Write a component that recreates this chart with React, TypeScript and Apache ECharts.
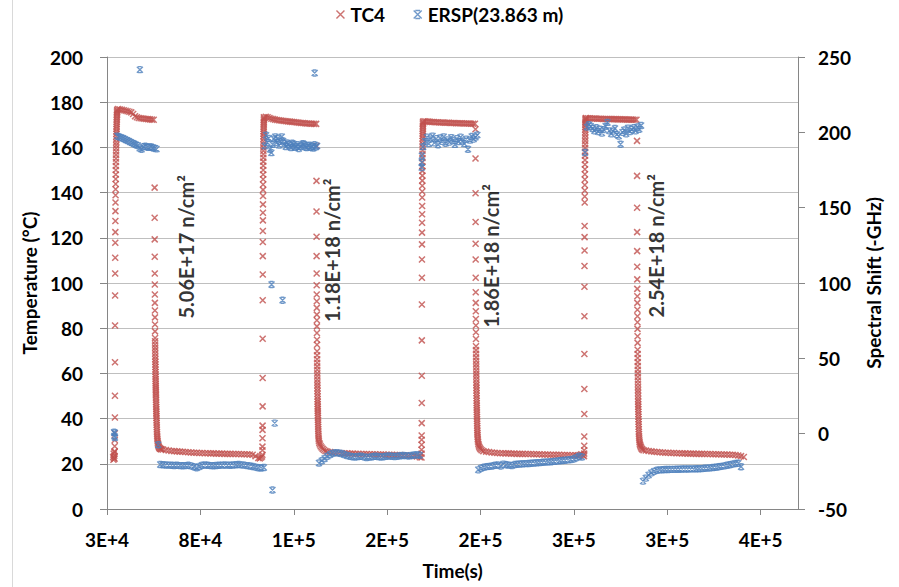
import React, { useEffect, useRef } from 'react';
import * as echarts from 'echarts';

// ---------- axis setup ----------
const T0 = 30000; // first x tick (s)
const xTickLabels = ['3E+4', '8E+4', '1E+5', '2E+5', '2E+5', '3E+5', '3E+5', '4E+5'];
const legendNames = ['TC4', 'ERSP(23.863 m)'];

// ---------- TC4 (°C) ----------
// transitions: [time(s), temp]
const tc4Pre1 = [[33300, 23.0], [33450, 21.8], [33600, 24.5], [33750, 22.5], [33900, 23.5], [34000, 25.2], [34050, 22.2]];
const tc4Rise1 = [[34100, 25.5], [34130, 27.8], [34160, 30.5], [34190, 33.5], [34220, 40.5], [34250, 50.1], [34280, 64.9], [34310, 81.2], [34340, 94.5], [34370, 104.2], [34400, 111.2], [34430, 117.8], [34460, 122.5], [34490, 127.4], [34520, 131.8], [34550, 135.6], [34580, 138.8], [34610, 141.5], [34640, 143.8], [34670, 146.0], [34700, 148.0], [34730, 150.0], [34760, 151.8], [34790, 153.5], [34820, 155.1], [34850, 156.7], [34880, 158.2], [34910, 159.6], [34940, 161.0], [34970, 162.3], [35000, 163.6], [35030, 164.8], [35060, 166.0], [35090, 167.1], [35120, 168.2], [35150, 169.2], [35180, 170.2], [35210, 171.1], [35240, 172.0], [35270, 172.8], [35300, 173.6], [35330, 174.3], [35360, 175.0], [35390, 175.6], [35420, 176.2], [35450, 176.7]];
// plateaus: start, sampling step, values
const tc4High1 = { start: 36000, step: 1000, values: [177.0, 176.8, 176.6, 176.4, 176.2, 176.0, 175.8, 175.5, 174.8, 173.8, 173.3, 173.0, 172.9, 172.8, 172.7, 172.6, 172.5, 172.4, 172.3, 172.2] };
const tc4Fall1 = [[55500, 142.2], [55520, 128.9], [55540, 119.3], [55560, 111.6], [55580, 104.2], [55600, 99.3], [55620, 94.9], [55640, 91.2], [55660, 87.8], [55680, 84.8], [55700, 81.6], [55720, 78.6], [55740, 75.7], [55760, 74.2], [55780, 72.8], [55800, 71.4], [55820, 70.1], [55840, 68.8], [55860, 67.5], [55880, 66.3], [55900, 65.1], [55920, 63.9], [55940, 62.8], [55960, 61.7], [55980, 60.6], [56000, 59.5], [56020, 58.5], [56040, 57.5], [56060, 56.5], [56080, 55.5], [56100, 54.6], [56120, 53.7], [56140, 52.8], [56160, 51.9], [56180, 51.0], [56200, 50.2], [56230, 49.2], [56260, 48.2], [56290, 47.2], [56320, 46.2], [56350, 45.2], [56380, 44.2], [56410, 43.2], [56440, 42.2], [56470, 41.2], [56500, 40.2], [56540, 39.2], [56580, 38.2], [56620, 37.2], [56660, 36.2], [56700, 35.2], [56750, 34.2], [56800, 33.3], [56860, 32.4], [56930, 31.6], [57000, 30.8], [57100, 30.0], [57220, 29.3], [57360, 28.7], [57520, 28.1], [57700, 27.6], [57900, 27.2], [58150, 26.9], [58450, 26.7], [58800, 26.5], [59200, 26.4]];
const tc4Low1 = { start: 60000, step: 1500, values: [26.3, 26.1, 25.9, 25.7, 25.6, 25.5, 25.4, 25.3, 25.2, 25.1, 25.0, 24.9, 24.9, 24.8, 24.8, 24.7, 24.7, 24.6, 24.6, 24.5, 24.5, 24.5, 24.4, 24.4, 24.4, 24.3, 24.3, 24.3, 24.2, 24.2, 24.2, 24.1, 24.0, 23.4, 22.6] };
const tc4Pre2 = [[111800, 22.4], [112500, 22.8], [113000, 23.2]];
const tc4Rise2 = [[113200, 24.0], [113220, 26.0], [113240, 27.6], [113260, 31.3], [113280, 35.0], [113300, 36.9], [113320, 45.4], [113340, 58.0], [113360, 75.3], [113380, 92.4], [113400, 103.8], [113420, 111.9], [113440, 118.1], [113460, 123.0], [113480, 127.7], [113500, 131.1], [113520, 134.8], [113540, 138.5], [113560, 141.2], [113580, 143.6], [113600, 145.9], [113620, 148.0], [113640, 150.0], [113660, 151.9], [113680, 153.7], [113700, 155.4], [113720, 157.0], [113740, 158.5], [113760, 159.9], [113780, 161.3], [113800, 162.6], [113820, 163.8], [113840, 165.0], [113860, 166.1], [113880, 167.1], [113900, 168.1], [113920, 169.0], [113940, 169.9], [113960, 170.7], [113980, 171.5], [114000, 172.2], [114020, 172.8], [114040, 173.3]];
const tc4High2 = { start: 115000, step: 1000, values: [173.5, 173.3, 173.0, 172.7, 172.5, 172.3, 172.1, 172.0, 171.9, 171.8, 171.7, 171.6, 171.5, 171.4, 171.3, 171.2, 171.1, 171.0, 170.9, 170.8, 170.8, 170.7, 170.6, 170.6, 170.5, 170.5, 170.4, 170.4] };
const tc4Fall2 = [[142150, 160.7], [142170, 145.2], [142190, 131.6], [142210, 120.5], [142230, 111.9], [142250, 104.2], [142270, 99.0], [142290, 94.9], [142310, 91.9], [142330, 89.0], [142350, 86.0], [142370, 83.5], [142390, 80.8], [142410, 77.9], [142430, 74.9], [142450, 72.7], [142470, 69.8], [142490, 68.0], [142510, 66.3], [142530, 64.7], [142550, 63.1], [142570, 61.6], [142590, 60.1], [142610, 58.7], [142630, 57.3], [142650, 56.0], [142670, 54.7], [142690, 53.4], [142710, 52.2], [142730, 51.0], [142750, 49.8], [142770, 48.6], [142790, 47.5], [142810, 46.4], [142830, 45.3], [142850, 44.3], [142870, 43.3], [142890, 42.4], [142920, 41.4], [142950, 40.4], [142980, 39.4], [143010, 38.4], [143040, 37.4], [143070, 36.4], [143100, 35.4], [143140, 34.4], [143180, 33.4], [143230, 32.5], [143290, 31.6], [143360, 30.8], [143450, 30.0], [143700, 29.2], [144000, 28.5], [144400, 27.8], [144900, 27.2], [145500, 26.6], [146200, 26.1], [147000, 25.7], [148000, 25.4]];
const tc4Low2 = { start: 149500, step: 1500, values: [25.2, 25.0, 24.9, 24.8, 24.7, 24.6, 24.6, 24.5, 24.5, 24.4, 24.4, 24.3, 24.3, 24.3, 24.2, 24.2, 24.2, 24.1, 24.1, 24.1, 24.0, 24.0, 24.0, 23.9, 23.9, 23.9, 23.8, 23.8, 23.7, 23.6, 23.5, 23.2, 22.9] };
const tc4Rise3 = [[198400, 22.8], [198420, 24.5], [198440, 26.2], [198460, 28.4], [198480, 30.6], [198500, 32.5], [198520, 38.0], [198540, 46.9], [198560, 59.0], [198580, 74.6], [198600, 90.5], [198620, 102.3], [198640, 110.4], [198660, 117.1], [198680, 122.3], [198700, 126.7], [198720, 130.4], [198740, 134.1], [198760, 137.8], [198780, 140.5], [198800, 143.0], [198820, 145.3], [198840, 147.5], [198860, 149.6], [198880, 151.6], [198900, 153.5], [198920, 155.3], [198940, 157.0], [198960, 158.6], [198980, 160.1], [199000, 161.5], [199020, 162.8], [199040, 164.0], [199060, 165.1], [199080, 166.1], [199100, 167.1], [199120, 168.0], [199140, 168.8], [199160, 169.6], [199180, 170.3], [199200, 170.9], [199220, 171.4]];
const tc4High3 = { start: 200000, step: 1000, values: [171.6, 171.5, 171.4, 171.3, 171.2, 171.2, 171.1, 171.1, 171.0, 171.0, 171.0, 170.9, 170.9, 170.9, 170.8, 170.8, 170.8, 170.7, 170.7, 170.7, 170.7, 170.6, 170.6, 170.6, 170.6, 170.5, 170.5, 170.5] };
const tc4Fall3 = [[227300, 168.0], [227320, 155.1], [227340, 139.7], [227360, 127.0], [227380, 117.4], [227400, 110.4], [227420, 102.3], [227440, 95.9], [227460, 91.2], [227480, 87.5], [227500, 84.1], [227520, 81.2], [227540, 78.2], [227560, 75.2], [227580, 72.0], [227600, 70.3], [227620, 68.7], [227640, 67.1], [227660, 65.6], [227680, 64.1], [227700, 62.7], [227720, 61.3], [227740, 59.9], [227760, 58.6], [227780, 57.3], [227800, 56.0], [227820, 54.8], [227840, 53.6], [227860, 52.4], [227880, 51.2], [227900, 50.1], [227920, 49.0], [227940, 47.9], [227960, 46.8], [227980, 45.8], [228000, 44.8], [228020, 43.8], [228040, 42.8], [228070, 41.8], [228100, 40.8], [228130, 39.8], [228160, 38.8], [228190, 37.8], [228220, 36.8], [228250, 35.8], [228290, 34.8], [228330, 33.8], [228380, 32.9], [228440, 32.0], [228510, 31.1], [228600, 30.3], [228720, 29.5], [228880, 28.8], [229080, 28.1], [229330, 27.5], [229650, 26.9], [230050, 26.4], [230600, 26.0]];
const tc4Low3 = { start: 231500, step: 1500, values: [25.6, 25.4, 25.2, 25.0, 24.9, 24.8, 24.7, 24.7, 24.6, 24.6, 24.5, 24.5, 24.4, 24.4, 24.4, 24.3, 24.3, 24.3, 24.2, 24.2, 24.2, 24.1, 24.1, 24.1, 24.0, 24.0, 24.0, 24.0, 23.9, 23.9, 23.9, 23.8, 23.8, 23.8] };
const tc4Pre4 = [[282000, 23.6], [283000, 23.9], [284000, 24.2], [284800, 23.8], [285400, 23.4]];
const tc4Rise4 = [[285500, 24.5], [285520, 26.0], [285540, 28.0], [285560, 32.1], [285580, 42.0], [285600, 53.1], [285620, 68.6], [285640, 85.3], [285660, 98.3], [285680, 107.5], [285700, 114.4], [285720, 120.3], [285740, 125.2], [285780, 135.6], [285800, 138.3], [285820, 140.9], [285840, 143.4], [285860, 145.8], [285880, 148.1], [285900, 150.3], [285920, 152.4], [285940, 154.4], [285960, 156.3], [285980, 158.1], [286000, 159.8], [286020, 161.4], [286040, 162.9], [286060, 164.3], [286080, 165.6], [286100, 166.8], [286120, 167.9], [286140, 168.9], [286160, 169.8], [286180, 170.6], [286200, 171.3], [286220, 171.9], [286240, 172.4], [286260, 172.8]];
const tc4High4 = { start: 286500, step: 1000, values: [173.0, 172.9, 172.9, 172.8, 172.8, 172.8, 172.7, 172.7, 172.7, 172.6, 172.6, 172.6, 172.6, 172.5, 172.5, 172.5, 172.5, 172.4, 172.4, 172.4, 172.4, 172.4, 172.3, 172.3, 172.3, 172.3, 172.2, 172.2] };
const tc4Fall4 = [[313800, 162.9], [313820, 147.4], [313840, 133.3], [313860, 122.5], [313880, 114.1], [313900, 107.2], [313920, 101.6], [313940, 97.4], [313960, 94.1], [313980, 91.2], [314000, 88.2], [314020, 85.3], [314040, 82.6], [314060, 79.7], [314080, 76.4], [314100, 73.5], [314120, 70.5], [314140, 68.6], [314160, 66.8], [314180, 65.0], [314200, 63.3], [314220, 61.6], [314240, 60.0], [314260, 58.4], [314280, 56.9], [314300, 55.4], [314320, 54.0], [314340, 52.6], [314360, 51.3], [314380, 50.0], [314400, 48.7], [314420, 47.5], [314440, 46.3], [314460, 45.2], [314490, 44.1], [314520, 43.0], [314550, 41.9], [314580, 40.8], [314610, 39.7], [314640, 38.6], [314670, 37.5], [314700, 36.4], [314740, 35.3], [314780, 34.2], [314830, 33.2], [314890, 32.2], [314960, 31.3], [315050, 30.4], [315160, 29.6], [315300, 28.9], [315480, 28.3], [315700, 27.7], [315970, 27.2], [316300, 26.7], [316700, 26.3], [317300, 26.0]];
const tc4Low4 = { start: 318500, step: 1500, values: [25.9, 25.7, 25.5, 25.3, 25.2, 25.1, 25.0, 24.9, 24.9, 24.8, 24.8, 24.7, 24.7, 24.6, 24.6, 24.5, 24.5, 24.5, 24.4, 24.4, 24.4, 24.3, 24.3, 24.3, 24.2, 24.2, 24.2, 24.1, 24.1, 24.1, 24.0, 24.0, 23.9, 23.7, 23.4, 23.0] };

// ---------- ERSP spectral shift (-GHz) ----------
const erspPre1 = [[33800, 1.0], [33950, -1.5], [34100, 0.5], [34250, -2.5]];
const erspHigh1 = { start: 35500, step: 1000, values: [197.5, 197.0, 196.5, 196.0, 195.4, 194.8, 194.2, 193.6, 193.0, 192.4, 191.8, 191.2, 189.5, 188.8, 190.5, 190.8, 190.3, 190.0, 190.4, 189.8, 189.5, 189.0] };
const erspOutliers1 = [[47600, 241.6], [57400, -7.4]];
const erspLow1 = { start: 58500, step: 1500, values: [-20.5, -20.6, -20.8, -20.9, -21.0, -21.1, -21.0, -21.2, -21.3, -21.2, -21.0, -21.4, -22.0, -22.6, -21.8, -21.0, -20.8, -21.0, -21.2, -21.3, -21.1, -21.0, -20.9, -20.8, -20.9, -21.0, -20.8, -20.6, -20.5, -20.7, -20.9, -21.2, -21.5, -21.8, -22.2, -22.6, -22.8, -22.5] };
const erspHigh2 = { start: 114500, step: 700, values: [191.0, 198.1, 193.3, 196.0, 188.8, 186.5, 192.0, 195.5, 197.0, 193.3, 195.9, 191.5, 194.0, 197.0, 194.3, 192.5, 190.6, 193.0, 192.1, 191.0, 189.9, 192.8, 192.1, 190.0, 190.6, 191.8, 189.2, 190.5, 191.0, 192.4, 192.1, 190.2, 189.9, 191.2, 191.5, 190.0, 190.6, 189.5, 191.8, 190.3, 191.0] };
const erspOutliers2 = [[118100, 99.0], [124000, 88.6], [119800, 7.0], [118600, -37.4], [141200, 239.4]];
const erspLow2 = { start: 143500, step: 1500, values: [-19.5, -18.0, -16.5, -15.0, -13.8, -13.0, -12.6, -12.8, -13.2, -13.8, -14.5, -15.0, -15.3, -15.5, -15.2, -15.0, -15.4, -15.8, -15.6, -15.3, -15.0, -15.2, -15.5, -15.3, -15.0, -14.8, -15.0, -15.2, -15.0, -14.7, -14.5, -14.6, -14.8, -14.5, -14.2, -14.0, -14.3] };
const erspRise3 = [[198500, 176.6], [198550, 180.0], [198600, 184.4]];
const erspHigh3 = { start: 199300, step: 1000, values: [190.5, 194.0, 196.8, 192.5, 195.5, 197.5, 193.0, 195.8, 191.8, 196.2, 194.0, 197.0, 192.8, 195.0, 193.5, 196.5, 194.5, 192.0, 195.8, 193.8, 196.8, 194.2, 192.5, 195.5, 188.8, 194.8, 197.2, 195.5, 196.8, 198.2] };
const erspLow3 = { start: 228800, step: 1500, values: [-24.0, -23.0, -22.3, -21.9, -21.7, -21.5, -21.0, -20.8, -21.5, -20.2, -20.6, -20.9, -21.2, -20.5, -20.3, -20.1, -20.0, -19.9, -19.8, -19.6, -19.5, -19.3, -19.2, -19.0, -18.9, -18.7, -18.6, -18.4, -18.2, -18.0, -17.8, -17.6, -17.4, -17.2, -16.8, -16.0, -15.0, -15.5] };
const erspRise4 = [[286000, 186.6]];
const erspHigh4 = { start: 287000, step: 1000, values: [203.5, 205.0, 204.0, 202.5, 201.0, 203.0, 200.5, 202.0, 199.5, 201.8, 204.0, 206.6, 201.0, 199.0, 200.8, 202.5, 198.5, 197.5, 192.1, 200.0, 201.5, 199.0, 202.8, 200.5, 201.8, 203.0, 201.0, 203.5, 202.0, 204.5] };
const erspLow4 = { start: 317000, step: 1500, values: [-31.5, -29.5, -27.5, -26.0, -25.0, -24.3, -24.0, -23.9, -23.8, -23.8, -23.7, -23.7, -23.6, -23.6, -23.5, -23.5, -23.5, -23.4, -23.4, -23.3, -23.3, -23.2, -23.0, -22.9, -22.7, -22.5, -22.3, -22.0, -21.7, -21.4, -21.0, -20.6, -20.2, -19.8, -19.6, -22.0] };

// ---------- fluence annotations ----------
const fluenceTexts = ['5.06E+17 n/cm²', '1.18E+18 n/cm²', '1.86E+18 n/cm²', '2.54E+18 n/cm²'];
const fluenceAnchors = [[72250, 116.0], [150400, 114.5], [235700, 112.0], [324200, 116.5]];

// ---------- helpers ----------
type Seg = { start: number; step: number; values: number[] };
const fromPairs = (arr: number[][]) => arr.map(([t, v]) => [t - T0, v]);
const fromSeg = (s: Seg) => s.values.map((v, i) => [s.start + i * s.step - T0, v]);

const tc4Data = [
  ...fromPairs(tc4Pre1), ...fromPairs(tc4Rise1), ...fromSeg(tc4High1), ...fromPairs(tc4Fall1), ...fromSeg(tc4Low1),
  ...fromPairs(tc4Pre2), ...fromPairs(tc4Rise2), ...fromSeg(tc4High2), ...fromPairs(tc4Fall2), ...fromSeg(tc4Low2),
  ...fromPairs(tc4Rise3), ...fromSeg(tc4High3), ...fromPairs(tc4Fall3), ...fromSeg(tc4Low3),
  ...fromPairs(tc4Pre4), ...fromPairs(tc4Rise4), ...fromSeg(tc4High4), ...fromPairs(tc4Fall4), ...fromSeg(tc4Low4),
];
const erspData = [
  ...fromPairs(erspPre1), ...fromSeg(erspHigh1), ...fromPairs(erspOutliers1), ...fromSeg(erspLow1),
  ...fromSeg(erspHigh2), ...fromPairs(erspOutliers2), ...fromSeg(erspLow2),
  ...fromPairs(erspRise3), ...fromSeg(erspHigh3), ...fromSeg(erspLow3),
  ...fromPairs(erspRise4), ...fromSeg(erspHigh4), ...fromSeg(erspLow4),
];

const RED = '#C0504D';
const BLUE = '#4F81BD';
const AXIS = '#868686';
const FONT = 'Lato';
const X_SYM = 'path://M0,0L10,10M10,0L0,10';
const STAR_SYM = 'path://M0,0L10,10M10,0L0,10M2,0L8,0M2,10L8,10';

const labelStyle = { fontFamily: FONT, fontWeight: 'bold' as const, fontSize: 19, color: '#000' };

export default function App() {
  const ref = useRef<HTMLDivElement>(null);
  useEffect(() => {
    if (!ref.current) return;
    const chart = echarts.init(ref.current, undefined, { renderer: 'svg' });
    chart.setOption({
      animation: false,
      backgroundColor: '#fff',
      textStyle: { fontFamily: FONT },
      grid: { left: 107, right: 101, top: 57, bottom: 78 },
      legend: {
        top: 0,
        left: 'center',
        itemWidth: 10,
        itemHeight: 8,
        itemGap: 28,
        textStyle: { ...labelStyle, fontSize: 19 },
        data: [
          { name: legendNames[0], icon: X_SYM, itemStyle: { color: RED, borderColor: RED, borderWidth: 1.4 } },
          { name: legendNames[1], icon: STAR_SYM, itemStyle: { color: BLUE, borderColor: BLUE, borderWidth: 1.4 } },
        ],
      },
      xAxis: {
        type: 'value',
        min: 0,
        max: 370000,
        interval: 50000,
        name: 'Time(s)',
        nameLocation: 'middle',
        nameGap: 52,
        nameTextStyle: labelStyle,
        axisLine: { show: true, lineStyle: { color: AXIS } },
        axisTick: { show: true, length: 6, lineStyle: { color: AXIS } },
        axisLabel: {
          ...labelStyle,
          margin: 21,
          showMaxLabel: false,
          formatter: (v: number) => (v % 50000 === 0 ? xTickLabels[Math.round(v / 50000)] || '' : ''),
        },
        splitLine: { show: false },
      },
      yAxis: [
        {
          type: 'value',
          min: 0,
          max: 200,
          interval: 20,
          name: 'Temperature (°C)',
          nameLocation: 'middle',
          nameGap: 64,
          nameTextStyle: labelStyle,
          axisLine: { show: true, lineStyle: { color: AXIS } },
          axisTick: { show: true, length: 7, lineStyle: { color: AXIS } },
          axisLabel: { ...labelStyle, margin: 24 },
          splitLine: { show: true, lineStyle: { color: '#bfbfbf' } },
        },
        {
          type: 'value',
          position: 'right',
          min: -50,
          max: 250,
          interval: 50,
          name: 'Spectral Shift (-GHz)',
          nameLocation: 'middle',
          nameGap: 66,
          nameTextStyle: labelStyle,
          axisLine: { show: true, lineStyle: { color: AXIS } },
          axisTick: { show: true, length: 7, lineStyle: { color: AXIS } },
          axisLabel: { ...labelStyle, margin: 20 },
          splitLine: { show: false },
        },
      ],
      graphic: [
        { type: 'line', shape: { x1: 12.5, y1: 0, x2: 12.5, y2: 587 }, style: { stroke: '#d9d9d9', lineWidth: 1 }, silent: true },
      ],
      series: [
        {
          name: legendNames[0],
          type: 'scatter',
          yAxisIndex: 0,
          symbol: X_SYM,
          symbolSize: 6,
          itemStyle: { color: RED, borderColor: RED, borderWidth: 1.5 },
          data: tc4Data,
          silent: true,
        },
        {
          name: legendNames[1],
          type: 'scatter',
          yAxisIndex: 1,
          symbol: STAR_SYM,
          symbolSize: 6,
          itemStyle: { color: BLUE, borderColor: BLUE, borderWidth: 1.4 },
          data: erspData,
          silent: true,
        },
        {
          name: 'fluence',
          type: 'scatter',
          yAxisIndex: 0,
          symbol: 'circle',
          symbolSize: 1,
          itemStyle: { color: 'rgba(0,0,0,0)' },
          silent: true,
          z: 5,
          label: {
            show: true,
            position: 'inside',
            rotate: 90,
            formatter: (p: any) => p.name,
            ...labelStyle,
            fontSize: 20,
          },
          labelLayout: { hideOverlap: false },
          data: fluenceAnchors.map((a, i) => ({ name: fluenceTexts[i], value: [a[0] - T0, a[1]] })),
        },
      ],
    });
    return () => chart.dispose();
  }, []);
  return <div ref={ref} style={{ position: 'absolute', left: 0, top: 0, width: 899, height: 587 }} />;
}
